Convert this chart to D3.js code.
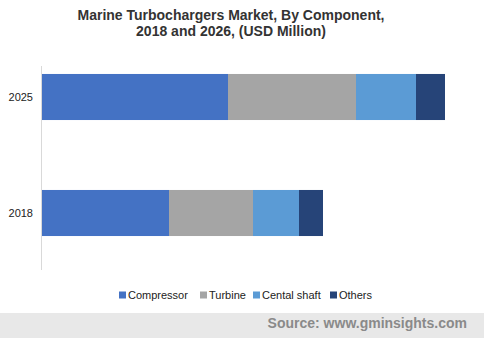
<!DOCTYPE html>
<html><head><meta charset="utf-8">
<script src="https://cdn.jsdelivr.net/npm/d3@7"></script>
<style>body{margin:0;background:#fff;} svg{display:block;font-family:"Liberation Sans",Arial,sans-serif;}</style>
</head><body>
<svg id="c" width="484" height="338"></svg>
<script>
const categories = ["2025", "2018"];
const seriesNames = ["Compressor", "Turbine", "Cental shaft", "Others"];
const compressor = [465, 317.5];
const turbine = [320, 210];
const centralShaft = [150, 115];
const others = [72.5, 60];
const colors = ["#4472C4", "#A5A5A5", "#5B9BD5", "#264478"];

const svg = d3.select("#c");
const W = 484, H = 338;

const rows = categories.map((c, i) => ({cat: c, Compressor: compressor[i], Turbine: turbine[i], "Cental shaft": centralShaft[i], Others: others[i]}));
const stack = d3.stack().keys(seriesNames)(rows);

const x = d3.scaleLinear().domain([0, 1100]).range([42, 482]);
const y = d3.scaleBand().domain(categories).range([39, 271]).paddingInner(0.603).paddingOuter(0.3015);

// title
svg.append("text").attr("x", 231).attr("y", 20).attr("text-anchor", "middle")
  .attr("font-size", 14).attr("font-weight", "bold").attr("fill", "#333")
  .text("Marine Turbochargers Market, By Component,");
svg.append("text").attr("x", 231).attr("y", 36).attr("text-anchor", "middle")
  .attr("font-size", 14).attr("font-weight", "bold").attr("fill", "#333")
  .text("2018 and 2026, (USD Million)");

// bars
svg.append("g").selectAll("g").data(stack).join("g")
  .attr("fill", (d, i) => colors[i])
  .selectAll("rect").data(d => d).join("rect")
  .attr("x", d => x(d[0])).attr("width", d => x(d[1]) - x(d[0]))
  .attr("y", d => y(d.data.cat)).attr("height", y.bandwidth());

// axis
const ax = svg.append("g").attr("transform", "translate(41,0)")
  .call(d3.axisLeft(y).tickSize(0).tickPadding(8));
ax.select(".domain").remove();
ax.selectAll("text").attr("font-size", 11).attr("fill", "#222").attr("font-family", "Liberation Sans, Arial, sans-serif");
svg.append("line").attr("x1", 41.5).attr("x2", 41.5).attr("y1", 66).attr("y2", 270)
  .attr("stroke", "#d9d9d9").attr("stroke-width", 1);

// legend
const legX = [119, 200, 253, 330];
const leg = svg.append("g").selectAll("g").data(seriesNames).join("g")
  .attr("transform", (d, i) => `translate(${legX[i]},295)`);
leg.append("rect").attr("x", 0).attr("y", -3.5).attr("width", 7).attr("height", 7).attr("fill", (d, i) => colors[i]);
leg.append("text").attr("x", 9).attr("y", 4).attr("font-size", 11).attr("fill", "#222").text(d => d);

// footer
svg.append("rect").attr("x", 0).attr("y", 313).attr("width", W).attr("height", 25).attr("fill", "#e8e8e8");
svg.append("text").attr("x", 467).attr("y", 328).attr("text-anchor", "end")
  .attr("font-size", 14).attr("font-weight", "bold").attr("fill", "#8a8a8a")
  .text("Source: www.gminsights.com");
</script>
</body></html>
